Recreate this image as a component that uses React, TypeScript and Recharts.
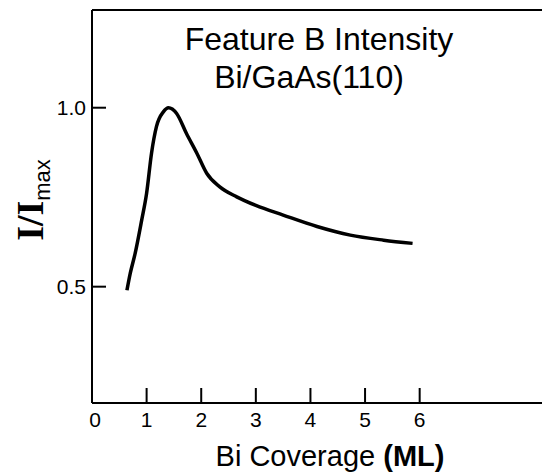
import React from "react";
import { LineChart, Line, XAxis, YAxis, ReferenceLine, Customized } from "recharts";

const coverage = [0.64, 0.70, 0.79, 0.91, 1.0, 1.09, 1.18, 1.31, 1.4, 1.55, 1.73, 1.92, 2.1, 2.34, 2.65, 3.0, 3.5, 4.12, 4.73, 5.34, 5.87];
const intensity = [0.49, 0.537, 0.593, 0.686, 0.761, 0.873, 0.947, 0.989, 1.0, 0.984, 0.928, 0.873, 0.817, 0.779, 0.751, 0.727, 0.7, 0.668, 0.644, 0.63, 0.621];
const xTicks = [0, 1, 2, 3, 4, 5, 6];
const yTicks = [0.5, 1.0];
const titleLine1 = "Feature B Intensity";
const titleLine2 = "Bi/GaAs(110)";

const X_DOMAIN: [number, number] = [0, 8.24];
const Y_DOMAIN: [number, number] = [0.175, 1.273];

const data = coverage.map((c, i) => ({ x: c, y: intensity[i] }));

const FONT = "'Liberation Sans', Arial, sans-serif";

const XTick = (props: any) => {
  const { x, y, payload } = props;
  return (
    <g>
      {payload.value !== 0 && <line x1={x} y1={y} x2={x} y2={y - 15} stroke="#000" strokeWidth={2} />}
      <text x={x + (payload.value === 0 ? 3 : 0)} y={y + 24} textAnchor="middle" fontFamily={FONT} fontSize={21} fill="#000">
        {payload.value}
      </text>
    </g>
  );
};

const YTick = (props: any) => {
  const { x, y, payload } = props;
  return (
    <g>
      <line x1={x} y1={y} x2={x + 14} y2={y} stroke="#000" strokeWidth={2} />
      <text x={x - 6} y={y + 7} textAnchor="end" fontFamily={FONT} fontSize={21} fill="#000">
        {payload.value.toFixed(1)}
      </text>
    </g>
  );
};

const Labels = () => (
  <g>
    <text x={319} y={50} textAnchor="middle" fontFamily={FONT} fontSize={32} fill="#000">{titleLine1}</text>
    <text x={309} y={88} textAnchor="middle" fontFamily={FONT} fontSize={32} fill="#000">{titleLine2}</text>
    <text x={330} y={466} textAnchor="middle" fontFamily={FONT} fontSize={29} fill="#000">
      <tspan>Bi Coverage </tspan>
      <tspan fontWeight="bold">(ML)</tspan>
    </text>
    <text x={43} y={200} transform="rotate(-90, 43, 200)" textAnchor="middle" fill="#000">
      <tspan fontFamily="'Liberation Serif', serif" fontWeight="bold" fontSize={38}>I/I</tspan>
      <tspan fontFamily={FONT} fontSize={22} dy={7}>max</tspan>
    </text>
  </g>
);

export default function App() {
  return (
    <div style={{ position: "absolute", left: 0, top: 0, background: "#fff" }}>
      <LineChart width={542} height={474} data={data} margin={{ top: 10, right: 0, bottom: 0, left: 0 }}>
        <XAxis
          dataKey="x"
          type="number"
          domain={X_DOMAIN}
          ticks={xTicks}
          allowDataOverflow
          height={71}
          tickSize={0}
          tickMargin={0}
          tickLine={false}
          tick={<XTick />}
          axisLine={{ stroke: "#000", strokeWidth: 2 }}
          interval={0}
        />
        <YAxis
          type="number"
          domain={Y_DOMAIN}
          ticks={yTicks}
          allowDataOverflow
          width={92}
          tickSize={0}
          tickMargin={0}
          tickLine={false}
          tick={<YTick />}
          axisLine={{ stroke: "#000", strokeWidth: 2 }}
          interval={0}
        />
        <ReferenceLine y={Y_DOMAIN[1]} stroke="#000" strokeWidth={2} />
        <Line
          dataKey="y"
          type="monotone"
          stroke="#000"
          strokeWidth={3.5}
          dot={false}
          isAnimationActive={false}
        />
        <Customized component={Labels} />
      </LineChart>
    </div>
  );
}
